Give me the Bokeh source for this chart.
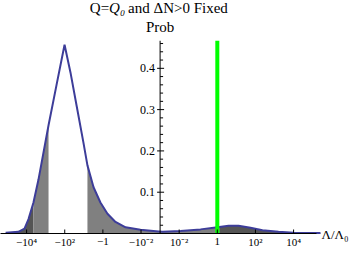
import numpy as np
from bokeh.plotting import figure
from bokeh.models import Range1d, Label
from bokeh.core.properties import value
from bokeh.embed import file_html
from bokeh.resources import INLINE

# Horizontal position u on the signed-log axis: u = sign(L) * (log10|L| + 3)
curve_u = [-8.1, -7.43, -7.11, -6.90, -6.64, -6.38, -5.85, -5.43, -5.01, -4.70,
           -4.38, -4.02, -3.81, -3.49, -3.13, -2.76, -2.34, -1.81, -1.03, -0.08,
           0.13, 1.07, 2.12, 3.01, 3.59, 4.11, 4.74, 5.37, 6.21, 7.0, 7.89, 8.41]
curve_p = [0.002, 0.004, 0.012, 0.035, 0.075, 0.13, 0.262, 0.36, 0.457, 0.39,
           0.31, 0.22, 0.165, 0.112, 0.075, 0.048, 0.028, 0.015, 0.009, 0.005,
           0.004, 0.006, 0.010, 0.015, 0.019, 0.019, 0.014, 0.008, 0.004, 0.002, 0.001, 0.001]

# shaded bands (u-limits) and their colours
band_lo = [-8.1, -6.64, -3.81, 3.1]
band_hi = [-6.64, -5.85, 3.1, 8.41]
band_col = ["#555555", "#808080", "#808080", "#555555"]

tick_u = [-7, -5, -3, -1, 1, 3, 5, 7]
tick_labels = ["\u221210\u2074", "\u221210\u00b2", "\u22121", "\u221210\u207b\u00b2",
               "10\u207b\u00b2", "1", "10\u00b2", "10\u2074"]
y_ticks = [0.1, 0.2, 0.3, 0.4]
y_tick_labels = ["0.1", "0.2", "0.3", "0.4"]
y_minor = [0.02, 0.04, 0.06, 0.08, 0.12, 0.14, 0.16, 0.18, 0.22, 0.24, 0.26, 0.28,
           0.32, 0.34, 0.36, 0.38, 0.42, 0.44, 0.46]
green_u = 3.0

X_START, X_END = -9.0, 8.2    # extent of the horizontal axis line
Y_TOP = 0.4667                # top of the vertical axis

SERIF = "Liberation Serif"
LINE = "#3d3d99"

W, H = 352, 248
XR = (-8.369, 10.089)
YR = (-0.0363, 0.5642)
PX = W / (XR[1] - XR[0])   # pixels per x unit
PY = H / (YR[1] - YR[0])   # pixels per y unit

p = figure(width=W, height=H, output_backend="svg", toolbar_location=None,
           x_range=Range1d(*XR), y_range=Range1d(*YR),
           x_axis_location=None, y_axis_location=None,
           min_border_left=0, min_border_right=0, min_border_top=0, min_border_bottom=0)
p.outline_line_color = None
p.xgrid.visible = False
p.ygrid.visible = False
p.background_fill_color = None
p.border_fill_color = "white"

cu = np.array(curve_u)
cp = np.array(curve_p)
for lo, hi, col in zip(band_lo, band_hi, band_col):
    inner = cu[(cu > lo) & (cu < hi)]
    xs = np.concatenate([[lo], inner, [hi]])
    ys = np.interp(xs, cu, cp)
    p.varea(x=xs, y1=np.zeros_like(xs), y2=ys, fill_color=col, fill_alpha=1.0)

p.line(curve_u, curve_p, line_color=LINE, line_width=2)

p.segment(x0=[green_u], y0=[0], x1=[green_u], y1=[Y_TOP], line_color="#00ff00", line_width=4)

# ---- horizontal axis along Prob = 0
p.segment(x0=[X_START], y0=[0], x1=[X_END], y1=[0], line_color="black", line_width=1)
p.segment(x0=tick_u, y0=[0] * len(tick_u), x1=tick_u, y1=[4 / PY] * len(tick_u),
          line_color="black", line_width=1)
p.text(x=tick_u, y=[-8 / PY] * len(tick_u), text=tick_labels,
       text_font=value(SERIF), text_font_size="11px", text_align="center",
       text_baseline="middle", text_color="black")

# ---- vertical axis at Lambda = 0
p.segment(x0=[0], y0=[0], x1=[0], y1=[Y_TOP], line_color="black", line_width=1)
p.segment(x0=[-3 / PX] * len(y_ticks), y0=y_ticks, x1=[4 / PX] * len(y_ticks), y1=y_ticks,
          line_color="black", line_width=1)
p.segment(x0=[0] * len(y_minor), y0=y_minor, x1=[3 / PX] * len(y_minor), y1=y_minor,
          line_color="black", line_width=1)
p.text(x=[-5 / PX] * len(y_ticks), y=y_ticks, text=y_tick_labels,
       text_font=value(SERIF), text_font_size="12px", text_align="right",
       text_baseline="middle", text_color="black")

# ---- titles
def lab(text, x, y, xo=0, align="center", size="15px", style="normal", baseline="middle"):
    p.add_layout(Label(x=x, y=y, x_offset=xo, text=text, text_align=align,
                       text_baseline=baseline, text_font=SERIF, text_font_size=size,
                       text_font_style=style, text_color="black"))

lab("Q=", 0, 0.546, xo=-51, align="right")
lab("Q\u2080", 0, 0.546, xo=-51, align="left", style="italic")
lab("and \u0394N>0 Fixed", 0, 0.546, xo=-32, align="left")
lab("Prob", 0, 0.499)
lab("\u039b/\u039b\u2080", X_END, -1 / PY, xo=5, align="left", size="13px")

open("out.html", "w").write(file_html(p, INLINE))
